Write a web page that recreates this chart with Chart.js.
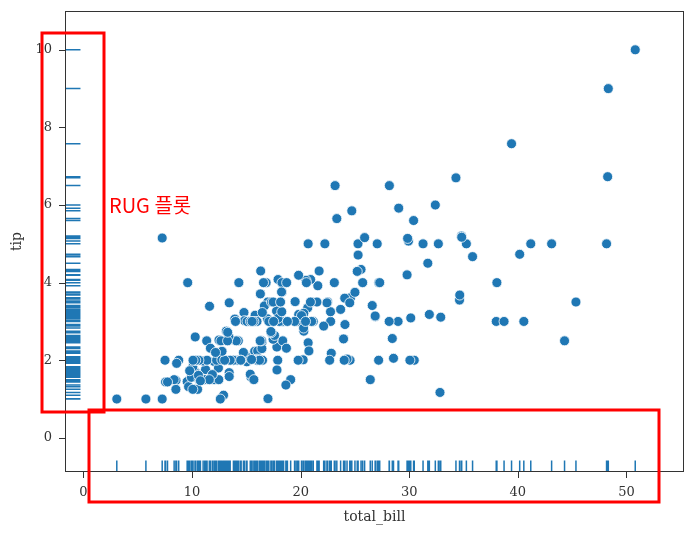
<!DOCTYPE html>
<html>
<head>
<meta charset="utf-8">
<script src="https://cdn.jsdelivr.net/npm/chart.js@4/dist/chart.umd.min.js"></script>
<style>
  html, body { margin: 0; padding: 0; background: #fff; }
  #wrap { width: 692px; height: 534px; }
</style>
</head>
<body>
<div id="wrap"><canvas id="rugChart" width="692" height="534"></canvas></div>
<script>
// tips dataset: total_bill / tip
const totalBill = [
  16.99, 10.34, 21.01, 23.68, 24.59, 25.29, 8.77, 26.88, 15.04, 14.78,
  10.27, 35.26, 15.42, 18.43, 14.83, 21.58, 10.33, 16.29, 16.97, 20.65,
  17.92, 20.29, 15.77, 39.42, 19.82, 17.81, 13.37, 12.69, 21.7, 19.65,
  9.55, 18.35, 15.06, 20.69, 17.78, 24.06, 16.31, 16.93, 18.69, 31.27,
  16.04, 17.46, 13.94, 9.68, 30.4, 18.29, 22.23, 32.4, 28.55, 18.04,
  12.54, 10.29, 34.81, 9.94, 25.56, 19.49, 38.01, 26.41, 11.24, 48.27,
  20.29, 13.81, 11.02, 18.29, 17.59, 20.08, 16.45, 3.07, 20.23, 15.01,
  12.02, 17.07, 26.86, 25.28, 14.73, 10.51, 17.92, 27.2, 22.76, 17.29,
  19.44, 16.66, 10.07, 32.68, 15.98, 34.83, 13.03, 18.28, 24.71, 21.16,
  28.97, 22.49, 5.75, 16.32, 22.75, 40.17, 27.28, 12.03, 21.01, 12.46,
  11.35, 15.38, 44.3, 22.42, 20.92, 15.36, 20.49, 25.21, 18.24, 14.31,
  14.0, 7.25, 38.07, 23.95, 25.71, 17.31, 29.93, 10.65, 12.43, 24.08,
  11.69, 13.42, 14.26, 15.95, 12.48, 29.8, 8.52, 14.52, 11.38, 22.82,
  19.08, 20.27, 11.17, 12.26, 18.26, 8.51, 10.33, 14.15, 16.0, 13.16,
  17.47, 34.3, 41.19, 27.05, 16.43, 8.35, 18.64, 11.87, 9.78, 7.51,
  14.07, 13.13, 17.26, 24.55, 19.77, 29.85, 48.17, 25.0, 13.39, 16.49,
  21.5, 12.66, 16.21, 13.81, 17.51, 24.52, 20.76, 31.71, 10.59, 10.63,
  50.81, 15.81, 7.25, 31.85, 16.82, 32.9, 17.89, 14.48, 9.6, 34.63,
  34.65, 23.33, 45.35, 23.17, 40.55, 20.69, 20.9, 30.46, 18.15, 23.1,
  15.69, 19.81, 28.44, 15.48, 16.58, 7.56, 10.34, 43.11, 13.0, 13.51,
  18.71, 12.74, 13.0, 16.4, 20.53, 16.47, 26.59, 38.73, 24.27, 12.76,
  30.06, 25.89, 48.33, 13.27, 28.17, 12.9, 28.15, 11.59, 7.74, 30.14,
  12.16, 13.42, 8.58, 15.98, 13.42, 16.27, 10.09, 20.45, 13.28, 22.12,
  24.01, 15.69, 11.61, 10.77, 15.53, 10.07, 12.6, 32.83, 35.83, 29.03,
  27.18, 22.67, 17.82, 18.78
];
const tip = [
  1.01, 1.66, 3.5, 3.31, 3.61, 4.71, 2.0, 3.12, 1.96, 3.23,
  1.71, 5.0, 1.57, 3.0, 3.02, 3.92, 1.67, 3.71, 3.5, 3.35,
  4.08, 2.75, 2.23, 7.58, 3.18, 2.34, 2.0, 2.0, 4.3, 3.0,
  1.45, 2.5, 3.0, 2.45, 3.27, 3.6, 2.0, 3.07, 2.31, 5.0,
  2.24, 2.54, 3.06, 1.32, 5.6, 3.0, 5.0, 6.0, 2.05, 3.0,
  2.5, 2.6, 5.2, 1.56, 4.34, 3.51, 3.0, 1.5, 1.76, 6.73,
  3.21, 2.0, 1.98, 3.76, 2.64, 3.15, 2.47, 1.0, 2.01, 2.09,
  1.97, 3.0, 3.14, 5.0, 2.2, 1.25, 3.08, 4.0, 3.0, 2.71,
  3.0, 3.4, 1.83, 5.0, 2.03, 5.17, 2.0, 4.0, 5.85, 3.0,
  3.0, 3.5, 1.0, 4.3, 3.25, 4.73, 4.0, 1.5, 3.0, 1.5,
  2.5, 3.0, 2.5, 3.48, 4.08, 1.64, 4.06, 4.29, 3.76, 4.0,
  3.0, 1.0, 4.0, 2.55, 4.0, 3.5, 5.07, 1.5, 1.8, 2.92,
  2.31, 1.68, 2.5, 2.0, 2.52, 4.2, 1.48, 2.0, 2.0, 2.18,
  1.5, 2.83, 1.5, 2.0, 3.25, 1.25, 2.0, 2.0, 2.0, 2.75,
  3.5, 6.7, 5.0, 5.0, 2.3, 1.5, 1.36, 1.63, 1.73, 2.0,
  2.5, 2.0, 2.74, 2.0, 2.0, 5.14, 5.0, 3.75, 2.61, 2.0,
  3.5, 2.5, 2.0, 2.0, 3.0, 3.48, 2.24, 4.5, 1.61, 2.0,
  10.0, 3.16, 5.15, 3.18, 4.0, 3.11, 2.0, 2.0, 4.0, 3.55,
  3.68, 5.65, 3.5, 6.5, 3.0, 5.0, 3.5, 2.0, 3.5, 4.0,
  1.5, 4.19, 2.56, 2.02, 4.0, 1.44, 2.0, 5.0, 2.0, 2.0,
  4.0, 2.01, 2.0, 2.5, 4.0, 3.23, 3.41, 3.0, 2.03, 2.23,
  2.0, 5.16, 9.0, 2.5, 6.5, 1.1, 3.0, 1.5, 1.44, 3.09,
  2.2, 3.48, 1.92, 3.0, 1.58, 2.5, 2.0, 3.0, 2.72, 2.88,
  2.0, 3.0, 3.39, 1.47, 3.0, 1.25, 1.0, 1.17, 4.67, 5.92,
  2.0, 2.0, 1.75, 3.0
];
const xTicks = [0, 10, 20, 30, 40, 50];
const yTicks = [0, 2, 4, 6, 8, 10];

const pointColor = "#1f77b4";
const axisColor = "#333";
const serif = "'DejaVu Serif', 'Liberation Serif', serif";

// rug lines along the left and bottom edges, plus axis frame and ticks
const rugPlugin = {
  id: "rug",
  afterDatasetsDraw(chart) {
    const { ctx, chartArea: a, scales } = chart;
    const hx = (a.bottom - a.top) * 0.025;
    const hy = (a.right - a.left) * 0.025;
    ctx.save();
    ctx.strokeStyle = pointColor;
    ctx.lineWidth = 1.5;
    ctx.beginPath();
    totalBill.forEach((v) => {
      const px = scales.x.getPixelForValue(v);
      ctx.moveTo(px, a.bottom);
      ctx.lineTo(px, a.bottom - hx);
    });
    tip.forEach((v) => {
      const py = scales.y.getPixelForValue(v);
      ctx.moveTo(a.left, py);
      ctx.lineTo(a.left + hy, py);
    });
    ctx.stroke();
    ctx.restore();
  },
  afterDraw(chart) {
    const { ctx, chartArea: a, scales } = chart;
    ctx.save();
    ctx.strokeStyle = axisColor;
    ctx.lineWidth = 1;
    ctx.strokeRect(a.left + 0.5, a.top + 0.5, a.right - a.left - 1, a.bottom - a.top - 1);
    ctx.beginPath();
    xTicks.forEach((v) => {
      const px = Math.round(scales.x.getPixelForValue(v)) + 0.5;
      ctx.moveTo(px, a.bottom);
      ctx.lineTo(px, a.bottom + 6);
    });
    yTicks.forEach((v) => {
      const py = Math.round(scales.y.getPixelForValue(v)) + 0.5;
      ctx.moveTo(a.left, py);
      ctx.lineTo(a.left - 6, py);
    });
    ctx.stroke();
    // red annotation boxes
    ctx.strokeStyle = "#ff0000";
    ctx.lineWidth = 3;
    ctx.strokeRect(42, 33, 62, 379);
    ctx.strokeRect(89, 410, 570, 92);
    ctx.fillStyle = "#ff0000";
    ctx.font = "20px 'Noto Sans CJK KR', 'Noto Sans', sans-serif";
    ctx.fillText("RUG 플롯", 109, 213);
    ctx.restore();
  },
};

const hiddenGrid = { drawOnChartArea: false, drawTicks: true, tickLength: 13, color: "rgba(0,0,0,0)" };

const chart = new Chart(document.getElementById("rugChart"), {
  type: "scatter",
  data: {
    datasets: [
      {
        label: "tips",
        data: totalBill.map((x, i) => ({ x: x, y: tip[i] })),
        backgroundColor: pointColor,
        borderColor: "#ffffff",
        borderWidth: 0.8,
        pointRadius: 5,
        pointHoverRadius: 5,
      },
    ],
  },
  options: {
    responsive: false,
    animation: false,
    layout: { padding: { top: 11, right: 8, left: 0, bottom: 0 } },
    plugins: { legend: { display: false }, tooltip: { enabled: false } },
    scales: {
      x: {
        type: "linear",
        min: -1.7,
        max: 55.3,
        afterBuildTicks: (s) => { s.ticks = xTicks.map((v) => ({ value: v })); },
        afterFit: (s) => { s.height = 62; },
        ticks: { color: axisColor, font: { family: serif, size: 13 }, padding: 0, maxRotation: 0 },
        grid: hiddenGrid,
        border: { display: false },
        title: { display: true, text: "total_bill", color: axisColor, font: { family: serif, size: 14 }, padding: { top: 0, bottom: 8 } },
      },
      y: {
        type: "linear",
        min: -0.88,
        max: 11.0,
        afterBuildTicks: (s) => { s.ticks = yTicks.map((v) => ({ value: v })); },
        afterFit: (s) => { s.width = 65; },
        ticks: { color: axisColor, font: { family: serif, size: 13 }, padding: 0 },
        grid: hiddenGrid,
        border: { display: false },
        title: { display: true, text: "tip", color: axisColor, font: { family: serif, size: 14 }, padding: { top: 9, bottom: 0 } },
      },
    },
  },
  plugins: [rugPlugin],
});
</script>
</body>
</html>
